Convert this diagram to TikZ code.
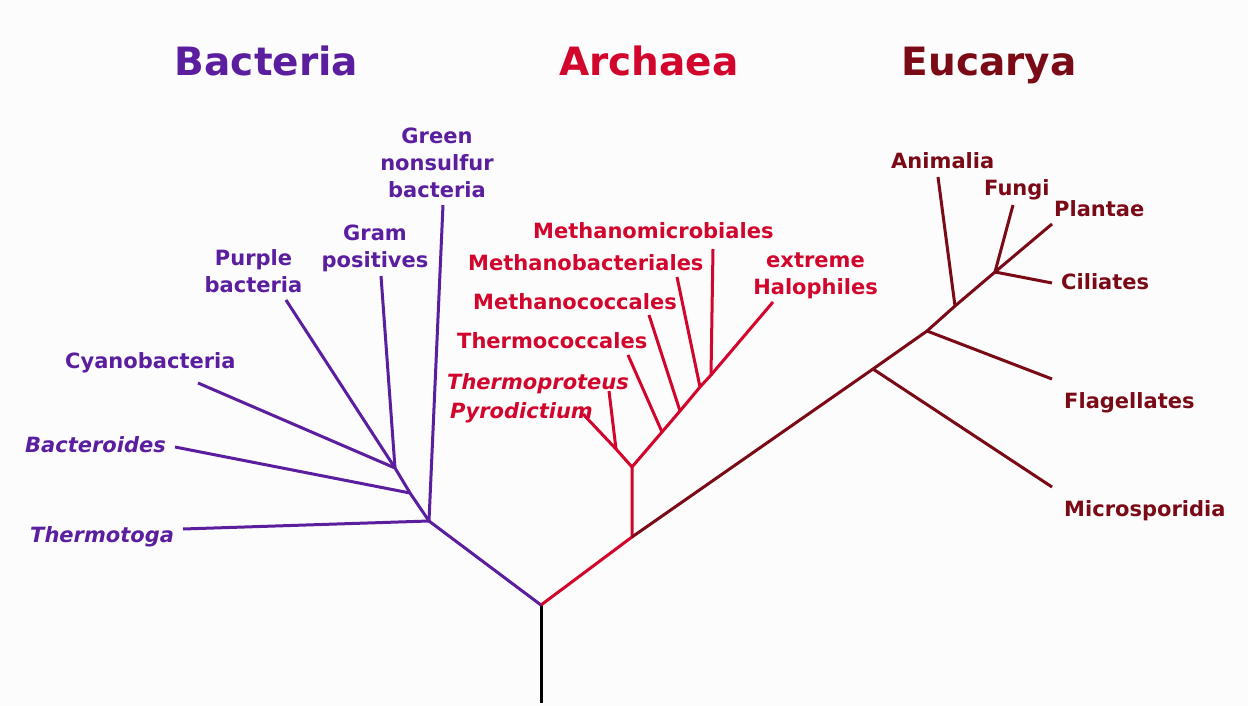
\documentclass[tikz,border=0pt]{standalone}
\usepackage{fontspec}
\setmainfont{DejaVu Sans}
\definecolor{bacol}{HTML}{5A1E9E}
\definecolor{arcol}{HTML}{D2062C}
\definecolor{eucol}{HTML}{7A0A16}
\definecolor{bgcol}{HTML}{FCFCFD}
\newcommand{\labfont}{\fontsize{21}{27}\selectfont\bfseries}
\newcommand{\domfont}{\fontsize{39}{44}\selectfont\bfseries}

\begin{document}
\begin{tikzpicture}[x=1pt,y=-1pt,
  branch/.style={line width=3pt},
  lab/.style={inner sep=0pt,font=\labfont},
  ital/.style={inner sep=0pt,font=\labfont\itshape},
  dtitle/.style={inner sep=0pt,font=\domfont,anchor=base}]
\fill[bgcol] (0,0) rectangle (1248,706);
\useasboundingbox (0,0) rectangle (1248,706);

\node[dtitle,text=bacol] (tbac) at (266.5,76) {Bacteria};
\node[dtitle,text=arcol] (tarc) at (649,76) {Archaea};
\node[dtitle,text=eucol] (teuc) at (989,76) {Eucarya};

% branch points
\coordinate (base) at (541,703);
\coordinate (root) at (541,605);
\coordinate (bac) at (429,521);
\coordinate (bac2) at (410,493);
\coordinate (bac3) at (395,468);
\coordinate (arc) at (632,537);
\coordinate (arc2) at (632,467);
\coordinate (arc3) at (616,449);
\coordinate (tcc) at (662,432);
\coordinate (mcc) at (680,411);
\coordinate (mbac) at (700,387);
\coordinate (mmic) at (711,375);
\coordinate (eu1) at (873,369);
\coordinate (eu2) at (927,331);
\coordinate (eu3) at (955,306);
\coordinate (eu4) at (995,272);

% tips
\coordinate (thermotogaT) at (183,529);
\coordinate (bacteroidesT) at (175,447);
\coordinate (cyanoT) at (198,383);
\coordinate (purpleT) at (286,300);
\coordinate (gramT) at (381,276);
\coordinate (greenT) at (443,205);
\coordinate (pyroT) at (583,414);
\coordinate (tprotT) at (609,391);
\coordinate (tccT) at (628,355);
\coordinate (mccT) at (649,315);
\coordinate (mbacT) at (677,277);
\coordinate (mmicT) at (713,249);
\coordinate (haloT) at (773,302);
\coordinate (microT) at (1052,487);
\coordinate (flagT) at (1052,379);
\coordinate (animT) at (938,177);
\coordinate (fungiT) at (1013,205);
\coordinate (plantT) at (1052,224);
\coordinate (cilT) at (1052,283);

\draw[branch,black] (base) -- (root);

\draw[branch,bacol] (root) -- (bac) -- (bac2) -- (bac3);
\draw[branch,bacol] (bac) -- (thermotogaT);
\draw[branch,bacol] (bac) -- (greenT);
\draw[branch,bacol] (bac2) -- (bacteroidesT);
\draw[branch,bacol] (bac3) -- (cyanoT);
\draw[branch,bacol] (bac3) -- (purpleT);
\draw[branch,bacol] (bac3) -- (gramT);

\draw[branch,arcol] (root) -- (arc) -- (arc2) -- (tcc) -- (mcc) -- (mbac) -- (mmic) -- (haloT);
\draw[branch,arcol] (arc2) -- (arc3) -- (pyroT);
\draw[branch,arcol] (arc3) -- (tprotT);
\draw[branch,arcol] (tcc) -- (tccT);
\draw[branch,arcol] (mcc) -- (mccT);
\draw[branch,arcol] (mbac) -- (mbacT);
\draw[branch,arcol] (mmic) -- (mmicT);

\draw[branch,eucol] (arc) -- (eu1) -- (eu2) -- (eu3) -- (eu4) -- (plantT);
\draw[branch,eucol] (eu1) -- (microT);
\draw[branch,eucol] (eu2) -- (flagT);
\draw[branch,eucol] (eu3) -- (animT);
\draw[branch,eucol] (eu4) -- (fungiT);
\draw[branch,eucol] (eu4) -- (cilT);

\node[lab,text=bacol,align=center,anchor=base] (green) at (437,197) {Green\\nonsulfur\\bacteria};
\node[lab,text=bacol,align=center,anchor=base] (gram) at (375,267) {Gram\\positives};
\node[lab,text=bacol,align=center,anchor=base] (purple) at (253.5,292) {Purple\\bacteria};
\node[lab,text=bacol,anchor=base west] (cyano) at (65,368) {Cyanobacteria};
\node[ital,text=bacol,anchor=base west] (bacteroides) at (25,452) {Bacteroides};
\node[ital,text=bacol,anchor=base west] (thermotoga) at (30,542) {Thermotoga};

\node[lab,text=arcol,anchor=base west] (mmicL) at (533,238) {Methanomicrobiales};
\node[lab,text=arcol,anchor=base west] (mbacL) at (468,270) {Methanobacteriales};
\node[lab,text=arcol,anchor=base west] (mccL) at (473,309) {Methanococcales};
\node[lab,text=arcol,anchor=base west] (tccL) at (457,348) {Thermococcales};
\node[ital,text=arcol,anchor=base west] (tprotL) at (447,389) {Thermoproteus};
\node[ital,text=arcol,anchor=base west] (pyroL) at (450,418) {Pyrodictium};
\node[lab,text=arcol,align=center,anchor=base] (halo) at (815.5,294) {\fontsize{21}{24.5}\selectfont extreme\\Halophiles};

\node[lab,text=eucol,anchor=base west] (anim) at (891,168) {Animalia};
\node[lab,text=eucol,anchor=base west] (fungi) at (984,195) {Fungi};
\node[lab,text=eucol,anchor=base west] (plant) at (1054,216) {Plantae};
\node[lab,text=eucol,anchor=base west] (cil) at (1061,289) {Ciliates};
\node[lab,text=eucol,anchor=base west] (flag) at (1064,408) {Flagellates};
\node[lab,text=eucol,anchor=base west] (micro) at (1064,516) {Microsporidia};
\end{tikzpicture}
\end{document}
